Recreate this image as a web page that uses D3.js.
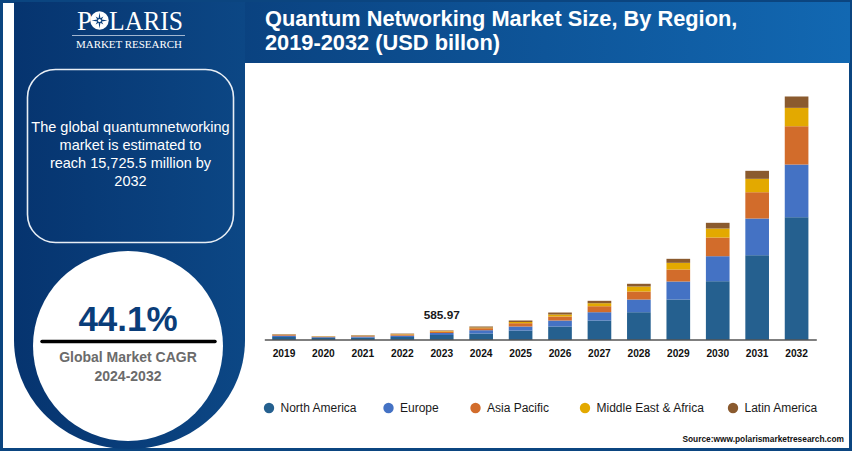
<!DOCTYPE html>
<html>
<head>
<meta charset="utf-8">
<script src="https://cdn.jsdelivr.net/npm/d3@7"></script>
<style>
  html, body { margin: 0; padding: 0; background: #fff; }
  svg { display: block; font-family: "Liberation Sans", Arial, sans-serif; }
</style>
</head>
<body>
<svg id="chart" width="852" height="452"></svg>
<script>
// values, USD million
var years = ["2019", "2020", "2021", "2022", "2023", "2024", "2025", "2026", "2027", "2028", "2029", "2030", "2031", "2032"];
var regions = ["North America", "Europe", "Asia Pacific", "Middle East & Africa", "Latin America"];
var regionColors = ["#25608f", "#4472c4", "#d26c2b", "#e3a900", "#8a5a2e"];

var northAmerica = [162, 97, 123, 162, 291, 388, 582, 841, 1229, 1766, 2588, 3772, 5454, 7913];
var europe = [84, 52, 65, 84, 129, 214, 259, 388, 537, 822, 1165, 1618, 2375, 3410];
var asiaPacific = [58, 32, 45, 78, 97, 129, 214, 259, 388, 518, 776, 1210, 1702, 2478];
var middleEast = [13, 19, 19, 26, 36, 45, 78, 129, 194, 324, 433, 582, 867, 1190];
var latinAmerica = [26, 13, 26, 32, 33, 65, 97, 129, 155, 175, 259, 369, 518, 735];
var seriesValues = [northAmerica, europe, asiaPacific, middleEast, latinAmerica];

var totalMax = 15725.5;
var labelledYear = "2023";
var labelledValue = "585.97";

var titleLines = ["Quantum Networking Market Size, By Region,", "2019-2032 (USD billon)"];
var noteLines = ["The global quantumnetworking", "market is estimated to", "reach 15,725.5 million by", "2032"];
var legendX = [269, 388.5, 475.5, 585, 733];

var svg = d3.select("#chart");
var defs = svg.append("defs");

var panelGrad = defs.append("linearGradient").attr("id", "panelGrad");
panelGrad.append("stop").attr("offset", "0%").attr("stop-color", "#06346f");
panelGrad.append("stop").attr("offset", "100%").attr("stop-color", "#0c4785");

var headGrad = defs.append("linearGradient").attr("id", "headGrad");
headGrad.append("stop").attr("offset", "0%").attr("stop-color", "#0a4280");
headGrad.append("stop").attr("offset", "100%").attr("stop-color", "#1268b2");

// page frame, header and the u-shaped side panel
svg.append("rect").attr("x", 1.5).attr("y", 1.5).attr("width", 849).attr("height", 448)
  .attr("fill", "#fff").attr("stroke", "#0b4580").attr("stroke-width", 3);
svg.append("rect").attr("x", 240).attr("y", 2).attr("width", 610).attr("height", 61)
  .attr("fill", "url(#headGrad)");
svg.append("path")
  .attr("d", "M14,2H245V340C245,400 195,449 129,449C64,449 14,400 14,340Z")
  .attr("fill", "url(#panelGrad)");

// logo, the O of POLARIS is a disc with a star cut out
var logoFont = "Liberation Serif";
svg.append("text").attr("x", 77).attr("y", 29.5)
  .attr("font-family", logoFont).attr("font-size", 27).attr("fill", "#fff").text("P");
svg.append("text").attr("x", 109).attr("y", 29.5)
  .attr("font-family", logoFont).attr("font-size", 27).attr("fill", "#fff")
  .attr("textLength", 74).attr("lengthAdjust", "spacingAndGlyphs").text("LARIS");
svg.append("circle").attr("cx", 99.5).attr("cy", 20.5).attr("r", 9.2).attr("fill", "#fff");
var starPoints = d3.range(16).map(function(i) {
  return [i * Math.PI / 8, i % 2 ? 2.4 : (i % 4 ? 5.5 : 8)];
});
svg.append("path").attr("transform", "translate(99.5,20.5)")
  .attr("d", d3.lineRadial().curve(d3.curveLinearClosed)(starPoints))
  .attr("fill", "#0a3f7c");
svg.append("circle").attr("cx", 99.5).attr("cy", 20.5).attr("r", 1.6).attr("fill", "#fff");
svg.append("line").attr("x1", 72).attr("x2", 185).attr("y1", 35.5).attr("y2", 35.5)
  .attr("stroke", "#c9d6e6").attr("stroke-width", 0.8);
svg.append("text").attr("x", 76).attr("y", 48)
  .attr("font-family", logoFont).attr("font-size", 11).attr("fill", "#fff")
  .attr("textLength", 106).attr("lengthAdjust", "spacing").text("MARKET RESEARCH");

// header title
svg.append("g").selectAll("text").data(titleLines).enter().append("text")
  .attr("x", 265).attr("y", function(d, i) { return 26 + i * 23.5; })
  .attr("font-size", 21.8).attr("font-weight", "bold").attr("fill", "#fff")
  .text(function(d) { return d; });

// note box
svg.append("rect").attr("x", 27.5).attr("y", 69.5).attr("width", 206).attr("height", 173)
  .attr("rx", 28).attr("fill", "none").attr("stroke", "#e8eef5").attr("stroke-width", 1.6);
svg.append("g").selectAll("text").data(noteLines).enter().append("text")
  .attr("x", 130.5).attr("y", function(d, i) { return 132 + i * 18; })
  .attr("text-anchor", "middle").attr("font-size", 14.5).attr("fill", "#fff")
  .text(function(d) { return d; });

// CAGR circle
svg.append("circle").attr("cx", 128).attr("cy", 346).attr("r", 95).attr("fill", "#fff");
svg.append("text").attr("x", 128).attr("y", 331).attr("text-anchor", "middle")
  .attr("font-size", 35).attr("font-weight", "bold").attr("fill", "#0a3d79").text("44.1%");
svg.append("line").attr("x1", 42).attr("x2", 215).attr("y1", 341.5).attr("y2", 341.5)
  .attr("stroke", "#000").attr("stroke-width", 3.5).attr("stroke-linecap", "round");
svg.append("text").attr("x", 128).attr("y", 362).attr("text-anchor", "middle")
  .attr("font-size", 14).attr("font-weight", "bold").attr("fill", "#6b6b6b").text("Global Market CAGR");
svg.append("text").attr("x", 128).attr("y", 381).attr("text-anchor", "middle")
  .attr("font-size", 14).attr("font-weight", "bold").attr("fill", "#6b6b6b").text("2024-2032");

// stacked bars
var x = d3.scaleBand().domain(years).range([264.3, 816.3]).paddingInner(0.4).paddingOuter(0.2);
var y = d3.scaleLinear().domain([0, totalMax]).range([339.5, 96.5]);

var rows = years.map(function(year, i) {
  var row = { year: year };
  regions.forEach(function(region, r) { row[region] = seriesValues[r][i]; });
  return row;
});
var stacked = d3.stack().keys(regions)(rows);

svg.append("g").selectAll("g").data(stacked).enter().append("g")
  .attr("fill", function(d, i) { return regionColors[i]; })
  .selectAll("rect").data(function(d) { return d; }).enter().append("rect")
  .attr("x", function(d) { return x(d.data.year); })
  .attr("y", function(d) { return y(d[1]); })
  .attr("width", x.bandwidth())
  .attr("height", function(d) { return y(d[0]) - y(d[1]); });

var xAxis = svg.append("g").attr("transform", "translate(0,339.5)")
  .call(d3.axisBottom(x).tickSize(0).tickPadding(10));
xAxis.select(".domain").attr("stroke", "#000").attr("stroke-width", 1.2);
xAxis.selectAll("text").attr("font-family", "Liberation Sans").attr("font-size", 10.2)
  .attr("font-weight", "bold").attr("fill", "#111");

var labelIndex = years.indexOf(labelledYear);
svg.append("text")
  .attr("x", x(labelledYear) + x.bandwidth() / 2)
  .attr("y", y(d3.sum(seriesValues, function(s) { return s[labelIndex]; })) - 11)
  .attr("text-anchor", "middle").attr("font-size", 11.8).attr("font-weight", "bold")
  .attr("fill", "#1a1a1a").text(labelledValue);

// legend
var legend = svg.append("g").selectAll("g").data(regions).enter().append("g")
  .attr("transform", function(d, i) { return "translate(" + legendX[i] + ",408)"; });
legend.append("circle").attr("r", 5.2).attr("fill", function(d, i) { return regionColors[i]; });
legend.append("text").attr("x", 11.5).attr("y", 4.3).attr("font-size", 12).attr("fill", "#1a1a1a")
  .text(function(d) { return d; });

svg.append("text").attr("x", 844).attr("y", 442).attr("text-anchor", "end")
  .attr("font-size", 8.35).attr("font-weight", "bold").attr("fill", "#111")
  .text("Source:www.polarismarketresearch.com");
</script>
</body>
</html>
